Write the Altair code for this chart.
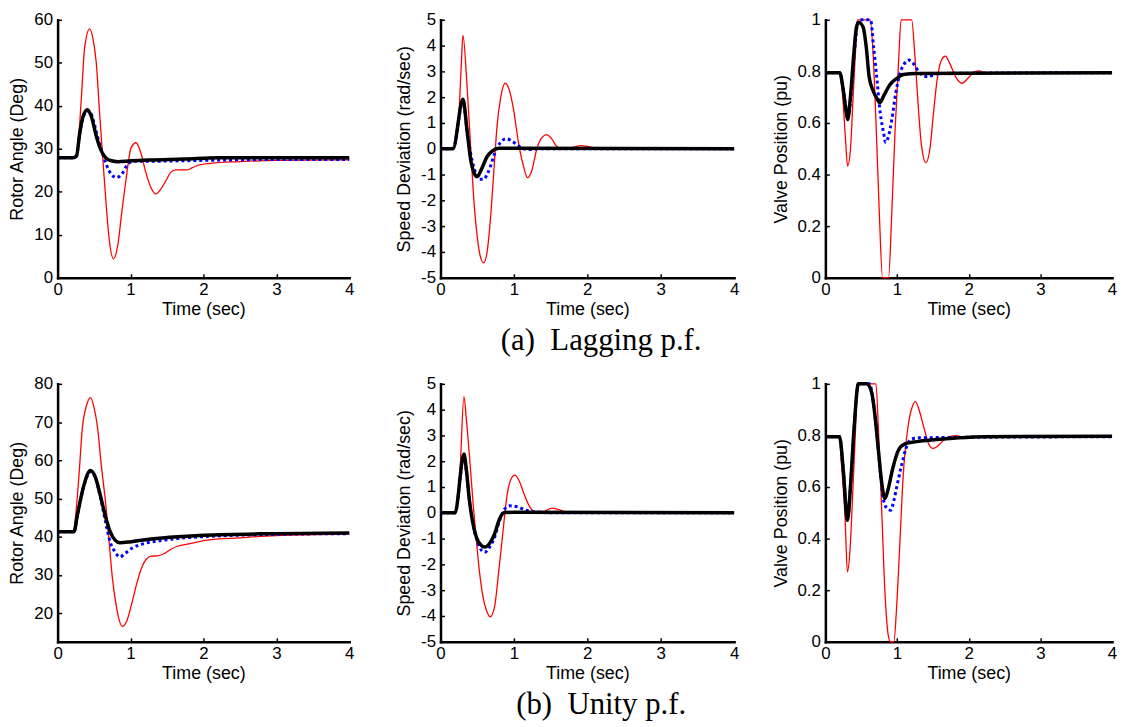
import altair as alt
import pandas as pd

# ---------------- data ----------------
# (a) Lagging p.f. -- Rotor angle (deg)
lag_ang_red_t = [0, 0.21, 0.245, 0.29, 0.327, 0.372, 0.44, 0.485, 0.531, 0.576, 0.621, 0.667, 0.712, 0.766,
                 0.825, 0.88, 0.939, 1.007, 1.075, 1.143, 1.21, 1.28, 1.347, 1.415, 1.483, 1.551, 1.62, 1.78,
                 1.85, 1.935, 2.1, 2.5, 3.0, 4.0]
lag_ang_red_v = [27.9, 27.9, 28.3, 32.9, 42.1, 53.7, 57.9, 55.6, 49.9, 38.3, 27.5, 16.8, 8.3, 4.4,
                 7.5, 15.2, 22.9, 30.2, 31.4, 29.0, 24.5, 21.0, 19.5, 20.6, 22.5, 24.5, 25.1, 25.1,
                 25.6, 26.2, 26.6, 27.0, 27.3, 27.4]
lag_ang_blue_t = [0, 0.21, 0.259, 0.304, 0.349, 0.408, 0.463, 0.508, 0.553, 0.6, 0.667, 0.735, 0.81, 0.893,
                  0.961, 1.05, 1.28, 2.0, 3.0, 4.0]
lag_ang_blue_v = [27.9, 27.9, 28.3, 33.5, 37.2, 38.8, 38.0, 35.5, 32.5, 29.8, 26.4, 24.1, 23.3, 24.4,
                  26.4, 27.1, 27.1, 27.3, 27.5, 27.5]
lag_ang_black_t = [0, 0.21, 0.259, 0.304, 0.349, 0.408, 0.463, 0.531, 0.599, 0.667, 0.735, 0.825, 1.0, 1.28,
                   1.73, 2.2, 4.0]
lag_ang_black_v = [27.9, 27.9, 28.3, 33.7, 37.5, 39.1, 37.5, 32.9, 29.5, 27.8, 27.2, 27.0, 27.2, 27.4,
                   27.6, 27.9, 27.9]

# (a) Lagging p.f. -- Speed deviation (rad/sec)
lag_spd_red_t = [0, 0.17, 0.22, 0.252, 0.284, 0.306, 0.365, 0.41, 0.455, 0.5, 0.545, 0.59, 0.635, 0.68, 0.725,
                 0.77, 0.815, 0.883, 0.95, 0.996, 1.063, 1.13, 1.185, 1.243, 1.31, 1.378, 1.446, 1.514,
                 1.58, 1.65, 1.78, 1.92, 2.03, 2.15, 4.0]
lag_spd_red_v = [0, 0, 0.5, 1.4, 3.3, 4.4, 2.28, 0.1, -2.0, -3.4, -4.2, -4.42, -4.0, -2.74, -0.95,
                 0.87, 1.9, 2.54, 2.15, 1.51, 0.23, -0.67, -1.12, -0.86, -0.03, 0.42, 0.55, 0.39,
                 0.1, -0.02, 0.04, 0.12, 0.07, 0, 0]
lag_spd_blue_t = [0, 0.17, 0.306, 0.365, 0.432, 0.477, 0.523, 0.59, 0.635, 0.68, 0.734, 0.815, 0.892, 0.973,
                  1.054, 1.13, 1.22, 1.35, 4.0]
lag_spd_blue_v = [0, 0, 1.85, 0.62, -0.47, -0.92, -1.18, -1.18, -0.99, -0.69, -0.21, 0.24, 0.39, 0.3,
                  0.13, 0, -0.03, 0, 0]
lag_spd_black_t = [0, 0.17, 0.306, 0.365, 0.41, 0.455, 0.5, 0.559, 0.635, 0.703, 0.793, 1.0, 4.0]
lag_spd_black_v = [0, 0, 1.92, 0.62, -0.41, -0.92, -1.08, -0.79, -0.3, -0.09, 0.02, 0.02, 0]

# (a) Lagging p.f. -- Valve position (pu)
lag_vlv_red_t = [0, 0.2, 0.235, 0.281, 0.31, 0.35, 0.387, 0.424, 0.452, 0.627, 0.673, 0.71, 0.752, 0.798,
                 0.881, 0.927, 0.973, 1.02, 1.057, 1.204, 1.25, 1.296, 1.342, 1.402, 1.458, 1.504, 1.559,
                 1.62, 1.675, 1.735, 1.818, 1.905, 1.988, 2.08, 2.15, 2.22, 4.0]
lag_vlv_red_v = [0.795, 0.795, 0.728, 0.536, 0.433, 0.498, 0.702, 0.895, 1.0, 1.0, 0.83, 0.575, 0.254, 0.0,
                 0.0, 0.254, 0.575, 0.83, 1.0, 1.0, 0.856, 0.664, 0.51, 0.446, 0.498, 0.626, 0.767,
                 0.844, 0.859, 0.831, 0.779, 0.754, 0.773, 0.798, 0.802, 0.795, 0.795]
lag_vlv_blue_t = [0, 0.2, 0.25, 0.29, 0.315, 0.355, 0.405, 0.445, 0.47, 0.63, 0.673, 0.72, 0.766, 0.812, 0.84,
                  0.881, 0.927, 0.982, 1.04, 1.098, 1.158, 1.227, 1.296, 1.365, 1.435, 1.504, 1.6, 4.0]
lag_vlv_blue_v = [0.795, 0.795, 0.73, 0.655, 0.62, 0.7, 0.87, 0.98, 1.0, 1.0, 0.895, 0.767, 0.638, 0.562, 0.525,
                  0.549, 0.613, 0.716, 0.792, 0.828, 0.844, 0.831, 0.802, 0.783, 0.779, 0.786, 0.792, 0.795]
lag_vlv_black_t = [0, 0.2, 0.249, 0.286, 0.31, 0.35, 0.397, 0.434, 0.466, 0.526, 0.57, 0.61, 0.67, 0.716, 0.76,
                   0.82, 0.9, 0.997, 1.09, 1.27, 4.0]
lag_vlv_black_v = [0.795, 0.795, 0.728, 0.651, 0.613, 0.702, 0.869, 0.972, 0.99, 0.972, 0.895, 0.78, 0.722,
                   0.696, 0.679, 0.709, 0.748, 0.773, 0.788, 0.792, 0.795]

# (b) Unity p.f. -- Rotor angle (deg)
uni_ang_red_t = [0, 0.22, 0.248, 0.293, 0.338, 0.396, 0.45, 0.5, 0.55, 0.6, 0.662, 0.707, 0.752, 0.81, 0.887,
                 0.946, 1.013, 1.081, 1.149, 1.216, 1.284, 1.374, 1.464, 1.554, 1.644, 1.82, 2.05, 2.5, 3.0, 4.0]
uni_ang_red_v = [41.3, 41.3, 45.6, 56.0, 68.2, 74.3, 76.4, 73.8, 68.2, 58.6, 48.2, 38.6, 29.1, 21.3, 16.5,
                 17.8, 22.2, 27.4, 31.7, 34.1, 34.9, 35.0, 35.6, 36.7, 37.5, 38.2, 39.1, 39.7, 40.3, 40.7]
uni_ang_blue_t = [0, 0.225, 0.27, 0.36, 0.45, 0.518, 0.586, 0.653, 0.721, 0.788, 0.856, 0.923, 1.013, 1.19,
                  1.46, 1.82, 2.09, 3.0, 4.0]
uni_ang_blue_v = [41.3, 41.3, 45.4, 53.2, 57.0, 55.4, 50.4, 44.3, 38.6, 36.0, 34.7, 35.6, 36.9, 38.2,
                  39.1, 39.8, 40.1, 40.6, 40.8]
uni_ang_black_t = [0, 0.225, 0.27, 0.36, 0.45, 0.518, 0.586, 0.653, 0.721, 0.788, 0.856, 1.013, 1.284, 1.644,
                   2.0, 3.0, 4.0]
uni_ang_black_v = [41.3, 41.3, 45.6, 53.4, 57.3, 55.6, 50.8, 45.6, 41.3, 39.1, 38.4, 38.7, 39.4, 40.0,
                   40.4, 40.8, 41.0]

# (b) Unity p.f. -- Speed deviation (rad/sec)
uni_spd_red_t = [0, 0.198, 0.265, 0.319, 0.355, 0.4, 0.445, 0.489, 0.534, 0.579, 0.624, 0.678, 0.737, 0.79,
                 0.848, 0.902, 0.96, 1.014, 1.073, 1.14, 1.208, 1.275, 1.342, 1.432, 1.52, 1.61, 1.7, 1.8, 4.0]
uni_spd_red_v = [0, 0, 1.6, 4.5, 3.54, 2.0, 0.33, -1.08, -2.36, -3.26, -3.77, -4.03, -3.64, -2.36,
                 -0.82, 0.59, 1.3, 1.46, 1.23, 0.72, 0.27, 0.04, -0.02, 0.08, 0.18, 0.12, 0.04, 0, 0]
uni_spd_blue_t = [0, 0.198, 0.319, 0.355, 0.39, 0.435, 0.489, 0.53, 0.6, 0.67, 0.737, 0.804, 0.872, 0.948,
                  1.05, 1.16, 1.3, 1.5, 4.0]
uni_spd_blue_v = [0, 0, 2.2, 1.55, 0.55, -0.35, -1.0, -1.33, -1.53, -1.33, -0.95, -0.31, 0.14, 0.27,
                  0.23, 0.1, 0.04, 0, 0]
uni_spd_black_t = [0, 0.198, 0.319, 0.355, 0.39, 0.435, 0.489, 0.557, 0.602, 0.67, 0.737, 0.804, 0.872, 1.0, 4.0]
uni_spd_black_v = [0, 0, 2.28, 1.6, 0.59, -0.31, -0.95, -1.27, -1.33, -1.18, -0.82, -0.24, 0.01, 0.02, 0]

# (b) Unity p.f. -- Valve position (pu)
uni_vlv_red_t = [0, 0.197, 0.22, 0.275, 0.308, 0.345, 0.382, 0.419, 0.447, 0.706, 0.738, 0.785, 0.831, 0.877,
                 0.91, 0.956, 0.993, 1.04, 1.086, 1.155, 1.21, 1.257, 1.317, 1.373, 1.433, 1.502, 1.572,
                 1.641, 1.734, 1.826, 1.919, 2.01, 2.2, 4.0]
uni_vlv_red_v = [0.795, 0.795, 0.709, 0.477, 0.271, 0.361, 0.58, 0.812, 1.0, 1.0, 0.838, 0.516, 0.194, 0.026,
                 0.0, 0.0, 0.13, 0.387, 0.645, 0.838, 0.909, 0.931, 0.89, 0.832, 0.773, 0.75, 0.76,
                 0.779, 0.795, 0.799, 0.793, 0.79, 0.795, 0.795]
uni_vlv_blue_t = [0, 0.197, 0.252, 0.308, 0.354, 0.4, 0.461, 0.614, 0.669, 0.715, 0.762, 0.808, 0.863, 0.91,
                  0.956, 1.0, 1.062, 1.123, 1.2, 1.317, 4.0]
uni_vlv_blue_v = [0.795, 0.795, 0.658, 0.471, 0.619, 0.825, 1.0, 1.0, 0.928, 0.812, 0.67, 0.555, 0.516, 0.51,
                  0.548, 0.606, 0.683, 0.748, 0.786, 0.791, 0.795]
uni_vlv_black_t = [0, 0.197, 0.252, 0.308, 0.354, 0.4, 0.461, 0.576, 0.646, 0.692, 0.738, 0.785, 0.831, 0.877,
                   0.938, 1.016, 1.109, 1.27, 1.549, 1.826, 2.2, 4.0]
uni_vlv_black_v = [0.795, 0.795, 0.658, 0.471, 0.619, 0.825, 1.0, 1.0, 0.966, 0.877, 0.748, 0.619, 0.555, 0.593,
                   0.67, 0.741, 0.767, 0.776, 0.784, 0.79, 0.795, 0.797]

x_ticks = [0, 1, 2, 3, 4]
angle_lag_ticks = [0, 10, 20, 30, 40, 50, 60]
angle_uni_ticks = [20, 30, 40, 50, 60, 70, 80]
speed_ticks = [-5, -4, -3, -2, -1, 0, 1, 2, 3, 4, 5]
valve_ticks = [0, 0.2, 0.4, 0.6, 0.8, 1]

captions = ["(a)\u00a0\u00a0Lagging p.f.", "(b)\u00a0\u00a0Unity p.f."]
x_title = "Time (sec)"
y_titles = ["Rotor Angle (Deg)", "Speed Deviation (rad/sec)", "Valve Position (pu)"]

SANS = "Liberation Sans"
SERIF = "Liberation Serif"


def frame(t, v):
    return pd.DataFrame({"t": t, "v": v})


def caption(text):
    return alt.TitleParams(text=text, orient="bottom", anchor="middle", frame="group", font=SERIF,
                           fontSize=31, fontWeight="normal", color="black", offset=8, dx=14)


def panel(red, blue, black, ydom, yticks, ytitle, w, h, title=None):
    xs = alt.Scale(domain=[0, 4], nice=False, zero=False)
    ys = alt.Scale(domain=ydom, nice=False, zero=False)
    main_x = alt.Axis(values=x_ticks, orient="bottom", title=x_title, tickSize=0, labelFlush=False,
                      labelPadding=4, titlePadding=3, labelExpr="'' + datum.value", grid=False)
    main_y = alt.Axis(values=yticks, orient="left", title=ytitle, tickSize=0, labelFlush=False,
                      labelPadding=5, titlePadding=7, labelExpr="'' + datum.value", grid=False)
    tick_x = alt.Axis(values=[1, 2, 3], orient="top", offset=-h, tickSize=4, tickWidth=1.5,
                      labels=False, domain=False, grid=False, title=None)
    tick_y = alt.Axis(values=yticks, orient="right", offset=-w, tickSize=4, tickWidth=1.5,
                      labels=False, domain=False, grid=False, title=None)
    red_l = alt.Chart(frame(*red)).mark_line(
        color="#ff0000", strokeWidth=1.3, interpolate="monotone"
    ).encode(x=alt.X("t:Q", scale=xs, axis=main_x), y=alt.Y("v:Q", scale=ys, axis=main_y))
    blue_l = alt.Chart(frame(*blue)).mark_line(
        color="#0000ff", strokeWidth=3, strokeDash=[3, 3], interpolate="monotone"
    ).encode(x=alt.X("t:Q", scale=xs, axis=None), y=alt.Y("v:Q", scale=ys, axis=None))
    black_l = alt.Chart(frame(*black)).mark_line(
        color="#000000", strokeWidth=3.5, interpolate="monotone"
    ).encode(x=alt.X("t:Q", scale=xs, axis=tick_x), y=alt.Y("v:Q", scale=ys, axis=tick_y))
    layer = alt.layer(red_l, blue_l, black_l).resolve_axis(x="independent", y="independent")
    if title is not None:
        return layer.properties(width=w, height=h, title=caption(title))
    return layer.properties(width=w, height=h)


W1, W2, W3, H = 294, 296, 289, 260

p1 = panel((lag_ang_red_t, lag_ang_red_v), (lag_ang_blue_t, lag_ang_blue_v), (lag_ang_black_t, lag_ang_black_v),
           [0, 60], angle_lag_ticks, y_titles[0], W1, H)
p2 = panel((lag_spd_red_t, lag_spd_red_v), (lag_spd_blue_t, lag_spd_blue_v), (lag_spd_black_t, lag_spd_black_v),
           [-5, 5], speed_ticks, y_titles[1], W2, H, captions[0])
p3 = panel((lag_vlv_red_t, lag_vlv_red_v), (lag_vlv_blue_t, lag_vlv_blue_v), (lag_vlv_black_t, lag_vlv_black_v),
           [0, 1], valve_ticks, y_titles[2], W3, H)
p4 = panel((uni_ang_red_t, uni_ang_red_v), (uni_ang_blue_t, uni_ang_blue_v), (uni_ang_black_t, uni_ang_black_v),
           [12.5, 80], angle_uni_ticks, y_titles[0], W1, H)
p5 = panel((uni_spd_red_t, uni_spd_red_v), (uni_spd_blue_t, uni_spd_blue_v), (uni_spd_black_t, uni_spd_black_v),
           [-5, 5], speed_ticks, y_titles[1], W2, H, captions[1])
p6 = panel((uni_vlv_red_t, uni_vlv_red_v), (uni_vlv_blue_t, uni_vlv_blue_v), (uni_vlv_black_t, uni_vlv_black_v),
           [0, 1], valve_ticks, y_titles[2], W3, H)

chart = alt.concat(p1, p2, p3, p4, p5, p6, columns=3, bounds="flush",
                   spacing={"row": 107, "column": 92}).properties(
    padding={"left": 1, "top": 0, "right": 0, "bottom": 0},
    background="white",
).configure_view(stroke=None).configure_axis(
    domainColor="black", domainWidth=2.5, domainCap="square", tickColor="black",
    labelFont=SANS, labelFontSize=17, labelColor="black",
    titleFont=SANS, titleFontSize=18, titleFontWeight="normal", titleColor="black",
)

chart.save("out.html", embed_options={"renderer": "svg", "actions": False})
